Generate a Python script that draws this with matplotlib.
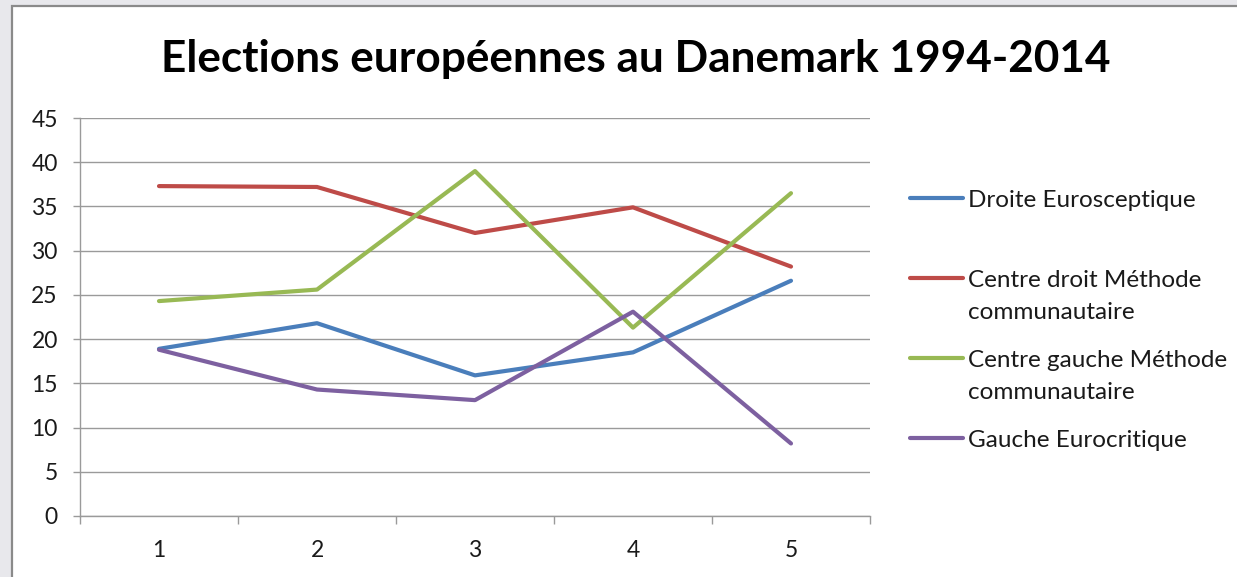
import matplotlib
matplotlib.use("Agg")
import matplotlib.pyplot as plt
from matplotlib.lines import Line2D
from matplotlib.patches import Rectangle
import numpy as np

# ---- data ----
title = "Elections européennes au Danemark 1994-2014"
categories = [1, 2, 3, 4, 5]
series_names = [
    "Droite Eurosceptique",
    "Centre droit Méthode\ncommunautaire",
    "Centre gauche Méthode\ncommunautaire",
    "Gauche Eurocritique",
]
droite_eurosceptique = [18.9, 21.8, 15.9, 18.5, 26.6]
centre_droit = [37.3, 37.2, 32.0, 34.9, 28.2]
centre_gauche = [24.3, 25.6, 39.0, 21.3, 36.5]
gauche_eurocritique = [18.8, 14.3, 13.1, 23.1, 8.2]
y_ticks = [0, 5, 10, 15, 20, 25, 30, 35, 40, 45]
colors = ["#4A7EBB", "#BE4B48", "#98B954", "#7D60A0"]

series_values = [droite_eurosceptique, centre_droit, centre_gauche, gauche_eurocritique]

W, H = 1237, 577
FONT = "Lato"
GRID = "#9a9a9a"

fig = plt.figure(figsize=(W / 100, H / 100), dpi=100)
fig.patch.set_facecolor("#e8e8ec")

def fx(px):
    return px / W

def fy(py):
    return 1 - py / H

# white chart frame
frame = Rectangle((fx(12), -0.05), 1 - fx(12) + 0.05, fy(6) + 0.05, transform=fig.transFigure,
                  facecolor="white", edgecolor="#8a8a8a", linewidth=1.6, zorder=0)
fig.add_artist(frame)

# plot area
left, right, top, bottom = 80, 870, 118, 516
ax = fig.add_axes([fx(left), fy(bottom), fx(right - left), (bottom - top) / H])
ax.set_facecolor("none")

for vals, c in zip(series_values, colors):
    ax.plot(categories, vals, color=c, linewidth=3.0, solid_capstyle="round",
            solid_joinstyle="round", zorder=3)

ax.set_xlim(0.5, 5.5)
ax.set_ylim(0, 45)
ax.set_yticks(y_ticks)
ax.set_yticklabels([str(v) for v in y_ticks])
ax.yaxis.grid(True, color=GRID, linewidth=1.0)
ax.set_axisbelow(True)

# category boundary ticks (major) and category labels (minor)
ax.set_xticks(np.arange(0.5, 5.6, 1.0))
ax.set_xticklabels([])
ax.set_xticks(categories, minor=True)
ax.set_xticklabels([str(c) for c in categories], minor=True)
ax.tick_params(axis="x", which="major", length=6, width=1.0, color=GRID, direction="out")
ax.tick_params(axis="x", which="minor", length=0, pad=17, labelsize=16.5)
ax.tick_params(axis="y", length=5, width=1.0, color=GRID, direction="out", pad=11,
               labelsize=16.5)
for lab in ax.get_xticklabels(minor=True) + ax.get_yticklabels():
    lab.set_fontfamily(FONT)
    lab.set_color("#1a1a1a")

for s in ["top", "right"]:
    ax.spines[s].set_visible(False)
for s in ["left", "bottom"]:
    ax.spines[s].set_color(GRID)
    ax.spines[s].set_linewidth(1.0)

renderer = fig.canvas.get_renderer()

def fit_text(t, target_px):
    t.set_fontsize(20)
    w = t.get_window_extent(renderer).width
    t.set_fontsize(20 * target_px / w)

# title
tt = fig.text(fx(636), fy(72), title, ha="center", va="baseline",
              fontfamily=FONT, fontweight="bold", color="black")
fit_text(tt, 948)

# legend (manual)
probe = fig.text(0, 0, series_names[0], fontfamily=FONT)
fit_text(probe, 228)
leg_size = probe.get_fontsize()
probe.remove()

handle_y = [198, 278, 358, 438]
for name, c, hy in zip(series_names, colors, handle_y):
    fig.add_artist(Line2D([fx(910), fx(963)], [fy(hy), fy(hy)], transform=fig.transFigure,
                          color=c, linewidth=3.0, solid_capstyle="round"))
    for k, line in enumerate(name.split("\n")):
        fig.text(fx(968), fy(hy + 9 + 32 * k), line, ha="left", va="baseline",
                 fontfamily=FONT, fontsize=leg_size, color="#1a1a1a")

fig.savefig("out.png", dpi=100, facecolor=fig.get_facecolor())
